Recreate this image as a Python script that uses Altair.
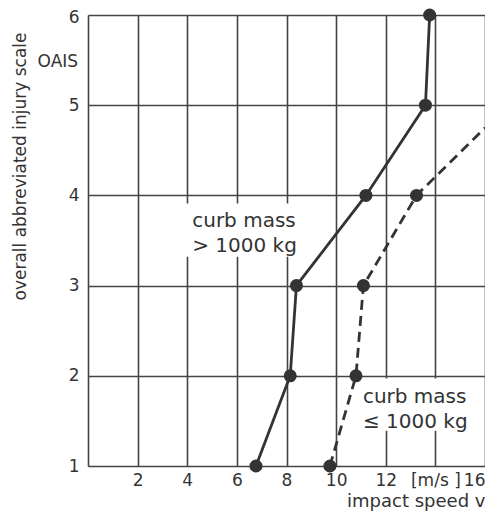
import altair as alt
import pandas as pd

# OAIS levels
oais_heavy = [1, 2, 3, 4, 5, 6]
speed_heavy = [6.77, 8.15, 8.4, 11.2, 13.6, 13.77]   # curb mass > 1000 kg

oais_light = [1, 2, 3, 4]
speed_light = [9.75, 10.8, 11.1, 13.24]               # curb mass <= 1000 kg
tail_speed = [16.0]                                     # dashed continuation
tail_oais = [4.75]

x_ticks = [0, 2, 4, 6, 8, 10, 12, 14, 16]
y_ticks = [1, 2, 3, 4, 5, 6]

FONT = "DejaVu Sans"
INK = "#333333"

heavy = pd.DataFrame({"speed": speed_heavy, "oais": oais_heavy})
light = pd.DataFrame({"speed": speed_light, "oais": oais_light})
light_line = pd.DataFrame({"speed": speed_light + tail_speed,
                           "oais": oais_light + tail_oais})

xs = alt.Scale(domain=[0, 16], nice=False, zero=False)
ys = alt.Scale(domain=[1, 6], nice=False, zero=False)

x_axis = alt.Axis(values=x_ticks, grid=True, gridColor="#444444", gridWidth=1.6,
                  ticks=False, domain=False, labelFont=FONT, labelFontSize=17,
                  labelColor=INK, labelPadding=6,
                  labelExpr="datum.value == 0 ? '' : (datum.value == 14 ? '[m/s ]' : datum.label)",
                  title="impact speed v", titleFont=FONT, titleFontSize=18,
                  titleFontWeight="normal", titleColor=INK,
                  titleAnchor="end", titleAlign="right", titleX=397, titleY=40,
                  titleBaseline="alphabetic")
y_axis = alt.Axis(values=y_ticks, grid=True, gridColor="#444444", gridWidth=1.6,
                  ticks=False, domain=False, labelFont=FONT, labelFontSize=17,
                  labelColor=INK, labelPadding=9,
                  labelOffset={"condition": {"test": "datum.value == 6", "value": 2},
                               "value": 0},
                  title="overall abbreviated injury scale", titleFont=FONT,
                  titleFontSize=17, titleFontWeight="normal", titleColor=INK,
                  titleAngle=270, titleX=-68, titleY=151, titleAlign="center",
                  titleBaseline="middle", titleAnchor="start")

base_x = alt.X("speed:Q", scale=xs, axis=x_axis)
base_y = alt.Y("oais:Q", scale=ys, axis=y_axis)

# white backgrounds behind the annotations (interrupt grid lines)
boxes = pd.DataFrame({"x1": [3.7, 10.96], "x2": [8.6, 15.3],
                      "y1": [3.32, 1.39], "y2": [3.91, 1.97]})
box_layer = alt.Chart(boxes).mark_rect(color="white").encode(
    x=alt.X("x1:Q", scale=xs, axis=x_axis), x2="x2:Q",
    y=alt.Y("y1:Q", scale=ys, axis=y_axis), y2="y2:Q")

heavy_line = alt.Chart(heavy).mark_line(color=INK, strokeWidth=2.8).encode(
    x=base_x, y=base_y, order="oais:Q")
heavy_pts = alt.Chart(heavy).mark_circle(color=INK, size=170, opacity=1).encode(
    x=base_x, y=base_y)
light_ln = alt.Chart(light_line).mark_line(color=INK, strokeWidth=2.8,
                                           strokeDash=[10, 6], clip=True).encode(
    x=base_x, y=base_y, order="oais:Q")
light_pts = alt.Chart(light).mark_circle(color=INK, size=170, opacity=1).encode(
    x=base_x, y=base_y)

ann = pd.DataFrame({"speed": [4.2, 11.08, -0.4],
                    "oais": [3.65, 1.70, 5.48],
                    "label": ["curb mass\n> 1000 kg", "curb mass\n≤ 1000 kg", "OAIS"]})
ann_main = alt.Chart(ann.iloc[:2]).mark_text(
    align="left", baseline="alphabetic", font=FONT, fontSize=20, color=INK,
    lineBreak="\n", lineHeight=25).encode(x=base_x, y=base_y, text="label:N")
ann_oais = alt.Chart(ann.iloc[2:]).mark_text(
    align="right", baseline="middle", font=FONT, fontSize=17, color=INK,
    clip=False).encode(x=base_x, y=base_y, text="label:N")

chart = alt.layer(box_layer, light_ln, heavy_line, light_pts, heavy_pts,
                  ann_main, ann_oais).properties(
    width=397, height=451,
    autosize=alt.AutoSizeParams(type="none"),
    padding={"left": 80, "top": 7, "right": 0, "bottom": 46},
).configure_view(stroke=INK, strokeWidth=3).configure(background="white")

chart.save("out.html", embed_options={"renderer": "svg", "actions": False})
